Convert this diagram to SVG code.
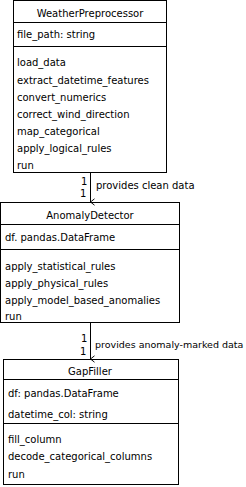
<svg xmlns="http://www.w3.org/2000/svg" width="246" height="487" viewBox="0 0 246 487">
<defs>
<style>
rect.box{fill:#fff;stroke:#000;stroke-width:1}
line.sep{stroke:#000;stroke-width:1}
text{font-family:"DejaVu Sans",sans-serif;font-size:10px;fill:#000}
.c{text-anchor:middle}
.lbl{font-size:9.5px}
.conn{stroke:#000;stroke-width:1;fill:none}
</style>
<marker id="open" viewBox="0 0 10 10" refX="5" refY="9" markerWidth="8" markerHeight="8" markerUnits="userSpaceOnUse" orient="auto-start-reverse">
<path d="M1,4 L5,9 L9,4" fill="none" stroke="#000" stroke-width="1.2"/>
</marker>
</defs>
<rect width="246" height="487" fill="#fff"/>
<g id="WeatherPreprocessor">
<rect class="box" x="13.5" y="0.5" width="153" height="172"/>
<line class="sep" x1="13.5" y1="22.5" x2="166.5" y2="22.5"/>
<line class="sep" x1="13.5" y1="46.5" x2="166.5" y2="46.5"/>
<text class="c" x="90" y="17">WeatherPreprocessor</text>
<text x="17" y="38">file_path: string</text>
<text x="17" y="66">load_data</text>
<text x="17" y="84">extract_datetime_features</text>
<text x="17" y="101">convert_numerics</text>
<text x="17" y="118">correct_wind_direction</text>
<text x="17" y="135">map_categorical</text>
<text x="17" y="152">apply_logical_rules</text>
<text x="17" y="169">run</text>
</g>
<g id="AnomalyDetector">
<rect class="box" x="0.5" y="202.5" width="179" height="120"/>
<line class="sep" x1="0.5" y1="224.5" x2="179.5" y2="224.5"/>
<line class="sep" x1="0.5" y1="249.5" x2="179.5" y2="249.5"/>
<text class="c" x="90" y="219">AnomalyDetector</text>
<text x="5" y="241">df. pandas.DataFrame</text>
<text x="5" y="270">apply_statistical_rules</text>
<text x="5" y="287">apply_physical_rules</text>
<text x="5" y="304">apply_model_based_anomalies</text>
<text x="5" y="320">run</text>
</g>
<g id="GapFiller">
<rect class="box" x="3.5" y="359.5" width="175" height="125"/>
<line class="sep" x1="3.5" y1="379.5" x2="178.5" y2="379.5"/>
<line class="sep" x1="3.5" y1="423.5" x2="178.5" y2="423.5"/>
<text class="c" x="90" y="375">GapFiller</text>
<text x="8" y="397">df: pandas.DataFrame</text>
<text x="8" y="418">datetime_col: string</text>
<text x="8" y="443">fill_column</text>
<text x="8" y="460">decode_categorical_columns</text>
<text x="8" y="478">run</text>
</g>
<g id="connectors">
<line class="conn" x1="90.5" y1="173" x2="90.5" y2="202" marker-end="url(#open)"/>
<text x="81" y="185">1</text>
<text x="80" y="197">1</text>
<text x="96" y="189">provides clean data</text>
<line class="conn" x1="90.5" y1="323" x2="90.5" y2="359" marker-end="url(#open)"/>
<text x="81" y="342">1</text>
<text x="80" y="355">1</text>
<text class="lbl" x="95" y="348">provides anomaly-marked data</text>
</g>
</svg>
